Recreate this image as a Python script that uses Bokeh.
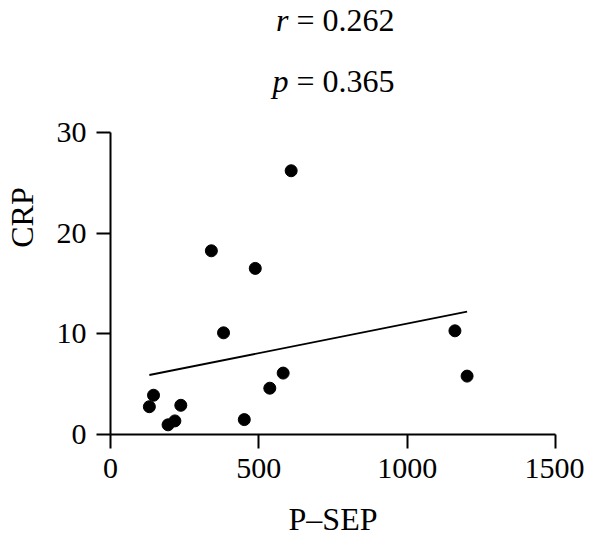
import numpy as np
from bokeh.plotting import figure
from bokeh.models import FixedTicker, Range1d
from bokeh.core.properties import value
from bokeh.embed import file_html
from bokeh.resources import INLINE

# Data
psep = [131, 145, 194, 217, 237, 340, 381, 451, 488, 537, 582, 609, 1161, 1202]
crp = [2.76, 3.9, 0.96, 1.35, 2.9, 18.25, 10.1, 1.48, 16.5, 4.6, 6.1, 26.2, 10.3, 5.8]
x_ticks = [0, 500, 1000, 1500]
y_ticks = [0, 10, 20, 30]
stat_letters = ["r", "p"]
stat_values = ["\u00a0= 0.262", "\u00a0= 0.365"]

slope, intercept = np.polyfit(psep, crp, 1)
fit_x = [min(psep), max(psep)]
fit_y = [slope * v + intercept for v in fit_x]

FONT = "Liberation Serif"

# layout (pixels)
W, H = 584, 541
LEFT, RIGHT_END, BOTTOM = 110, 555, 434
AXIS_TOP_PX = 132
y_per_px = 30.0 / (BOTTOM - AXIS_TOP_PX)
y_top = 30 + AXIS_TOP_PX * y_per_px

p = figure(width=W, height=H, x_range=Range1d(0, 1500), y_range=Range1d(0, y_top),
           output_backend="svg", toolbar_location=None,
           min_border_left=LEFT, min_border_right=W - RIGHT_END,
           min_border_top=0, min_border_bottom=H - BOTTOM)
p.outline_line_color = None
p.xgrid.grid_line_color = None
p.ygrid.grid_line_color = None
p.background_fill_color = "white"
p.border_fill_color = "white"

p.xaxis.ticker = FixedTicker(ticks=x_ticks)
p.yaxis.ticker = FixedTicker(ticks=y_ticks)
p.yaxis.bounds = (0, 30)
for ax in (p.xaxis, p.yaxis):
    ax.axis_line_width = 2
    ax.axis_line_color = "black"
    ax.major_tick_line_width = 2
    ax.major_tick_line_color = "black"
    ax.major_tick_out = 14
    ax.major_tick_in = 0
    ax.minor_tick_out = 0
    ax.minor_tick_in = 0
    ax.major_label_text_font = FONT
    ax.major_label_text_font_size = "30px"
    ax.major_label_text_color = "black"
    ax.axis_label_text_font = FONT
    ax.axis_label_text_font_size = "32px"
    ax.axis_label_text_font_style = "normal"
    ax.axis_label_text_color = "black"

p.xaxis.axis_label = "P\u2013SEP"
p.yaxis.axis_label = "CRP"
p.xaxis.major_label_standoff = 10
p.yaxis.major_label_standoff = 10
p.xaxis.axis_label_standoff = 20
p.yaxis.axis_label_standoff = 14

p.line(fit_x, fit_y, line_color="black", line_width=1.8)
p.scatter(psep, crp, size=12, fill_color="black", line_color="black")

# statistics text above the plot
anchor_x = 600
line_y = [y_top - 1 * y_per_px, y_top - 62 * y_per_px]
p.text(x=[anchor_x] * 2, y=line_y, text=stat_letters, text_font=value(FONT),
       text_font_style="italic", text_font_size="32px", text_align="right",
       text_baseline="top", text_color="black")
p.text(x=[anchor_x] * 2, y=line_y, text=stat_values, text_font=value(FONT),
       text_font_size="32px", text_align="left",
       text_baseline="top", text_color="black")

open("out.html", "w").write(file_html(p, INLINE))
